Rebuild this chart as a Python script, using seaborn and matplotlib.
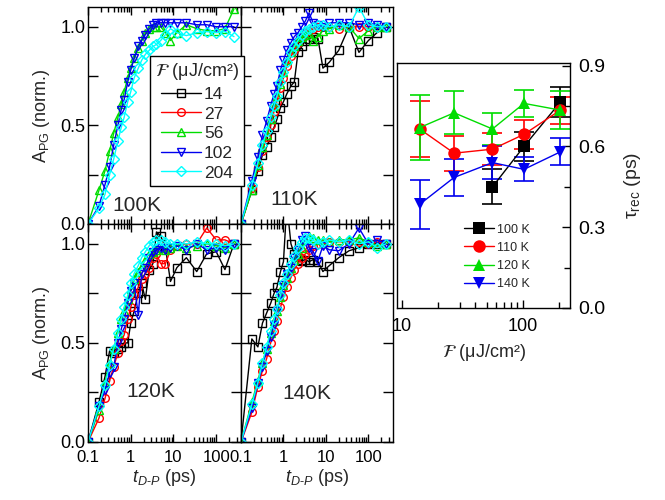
import numpy as np
import pandas as pd
import matplotlib
matplotlib.use("Agg")
import matplotlib.pyplot as plt
import seaborn as sns
from matplotlib.ticker import LogLocator, NullFormatter, FixedLocator

sns.set_theme(style="ticks")
plt.rcParams['font.family'] = ['Liberation Sans', 'DejaVu Sans']
plt.rcParams['mathtext.fontset'] = 'custom'
plt.rcParams['mathtext.rm'] = 'Liberation Sans'
plt.rcParams['mathtext.it'] = 'Liberation Sans:italic'
plt.rcParams['mathtext.sf'] = 'Liberation Sans'

# ---------------- data ----------------
fluences = ["14", "27", "56", "102", "204"]
series_colors = ["#000000", "#ff0000", "#00dd00", "#0000ee", "#00ffff"]
series_markers = ["s", "o", "^", "v", "D"]

t_delay = [0.1, 0.18, 0.25, 0.32, 0.4, 0.5, 0.6, 0.7, 0.85, 1.0, 1.2, 1.5, 1.8, 2.2,
           2.7, 3.3, 4.0, 5.0, 6.5, 8.5, 12, 20, 35, 60, 100, 160, 260]

k100_56 = [0, 0.17, 0.27, 0.37, 0.46, 0.54, 0.61, 0.67, 0.74, 0.79, 0.84, 0.89, 0.93, 0.97,
           0.99, 1.00, 1.00, 1.00, 0.97, 0.93, 0.97, 1.01, 0.99, 0.98, 0.98, 0.99, 1.09]
k100_102 = [0, 0.09, 0.20, 0.29, 0.40, 0.50, 0.58, 0.63, 0.72, 0.78, 0.84, 0.90, 0.93, 0.96,
            0.99, 1.01, 1.02, 1.02, 1.02, 1.02, 1.02, 1.02, 1.01, 1.01, 1.00, 1.00, 1.00]
k100_204 = [0, 0.08, 0.15, 0.25, 0.33, 0.42, 0.49, 0.54, 0.62, 0.67, 0.74, 0.79, 0.83, 0.86,
            0.88, 0.90, 0.91, 0.93, 0.96, 0.99, 0.97, 0.955, 0.97, 0.975, 0.97, 0.975, 0.95]

k110_14 = [0, 0.17, 0.27, 0.35, 0.39, 0.44, 0.49, 0.53, 0.59, 0.62, 0.66, 0.70, 0.72, 0.87,
           0.90, 0.93, 0.94, 0.95, 0.94, 0.79, 0.82, 0.88, 1.00, 0.87, 0.93, 0.97, 1.00]
k110_27 = [0, 0.18, 0.29, 0.37, 0.44, 0.50, 0.57, 0.62, 0.69, 0.74, 0.80, 0.85, 0.88, 0.92,
           0.95, 0.97, 0.98, 0.99, 1.00, 1.00, 1.00, 0.99, 1.00, 1.00, 1.00, 1.00, 1.00]
k110_56 = [0, 0.17, 0.30, 0.39, 0.45, 0.53, 0.60, 0.65, 0.71, 0.77, 0.83, 0.87, 0.90, 0.93,
           0.95, 0.96, 0.97, 0.93, 0.95, 0.98, 0.99, 1.01, 1.00, 0.94, 0.98, 1.00, 1.00]
k110_102 = [0, 0.22, 0.34, 0.45, 0.52, 0.60, 0.66, 0.70, 0.78, 0.83, 0.88, 0.92, 0.95, 0.97,
            1.00, 1.03, 1.07, 1.02, 1.01, 1.00, 1.02, 1.02, 1.02, 1.01, 1.02, 1.01, 1.00]
k110_204 = [0, 0.20, 0.31, 0.40, 0.47, 0.54, 0.60, 0.65, 0.72, 0.77, 0.82, 0.87, 0.90, 0.93,
            0.96, 0.98, 0.99, 1.00, 1.01, 1.01, 1.00, 1.01, 1.00, 1.10, 1.01, 1.00, 1.00]

k120_14 = [0, 0.20, 0.33, 0.46, 0.45, 0.47, 0.48, 0.50, 0.50, 0.60, 0.66, 0.75, 0.80, 0.72,
           0.87, 0.90, 1.06, 1.04, 0.98, 0.81, 0.88, 0.93, 0.86, 0.95, 0.96, 0.87, 1.00]
k120_27 = [0, 0.12, 0.22, 0.31, 0.38, 0.45, 0.51, 0.54, 0.62, 0.68, 0.74, 0.78, 0.82, 0.85,
           0.88, 0.93, 0.95, 0.90, 0.90, 0.97, 0.99, 1.00, 1.00, 1.08, 1.02, 1.02, 1.00]
k120_56 = [0, 0.16, 0.30, 0.40, 0.47, 0.55, 0.62, 0.66, 0.72, 0.77, 0.82, 0.86, 0.89, 0.92,
           0.95, 0.96, 0.97, 0.98, 0.97, 0.98, 0.99, 0.98, 0.99, 1.00, 0.99, 0.98, 1.00]
k120_102 = [0, 0.18, 0.26, 0.35, 0.38, 0.50, 0.57, 0.62, 0.70, 0.76, 0.80, 0.64, 0.85, 0.88,
            0.93, 0.96, 0.97, 0.98, 0.97, 0.98, 0.99, 0.97, 1.00, 0.97, 0.98, 0.97, 1.00]
k120_204 = [0, 0.18, 0.29, 0.39, 0.47, 0.55, 0.62, 0.68, 0.74, 0.80, 0.85, 0.89, 0.93, 0.96,
            0.99, 1.01, 1.02, 1.02, 1.01, 1.00, 1.00, 1.00, 1.01, 1.00, 1.00, 0.99, 1.00]

k140_14 = [0, 0.52, 0.48, 0.60, 0.65, 0.70, 0.75, 0.78, 0.86, 0.91, 1.20, 1.00, 0.95, 0.92,
           0.915, 0.92, 0.91, 0.92, 0.91, 0.86, 0.89, 0.93, 0.965, 0.98, 1.00, 1.00, 1.00]
k140_27 = [0, 0.15, 0.28, 0.36, 0.42, 0.50, 0.56, 0.61, 0.68, 0.73, 0.78, 0.83, 0.87, 0.90,
           0.93, 0.95, 0.97, 0.99, 1.00, 1.00, 1.01, 1.01, 1.01, 1.01, 1.00, 1.01, 1.00]
k140_56 = [0, 0.20, 0.31, 0.40, 0.47, 0.55, 0.61, 0.66, 0.73, 0.79, 0.83, 0.88, 0.92, 0.95,
           0.98, 1.02, 1.04, 1.03, 1.02, 1.02, 1.01, 1.02, 1.02, 1.03, 1.01, 0.99, 1.00]
k140_102 = [0, 0.17, 0.30, 0.38, 0.46, 0.53, 0.59, 0.66, 0.74, 0.79, 0.85, 0.88, 0.93, 0.97,
            1.02, 1.04, 0.98, 0.96, 0.915, 0.99, 0.97, 0.965, 1.00, 1.08, 1.00, 1.02, 1.00]
k140_204 = [0, 0.19, 0.30, 0.40, 0.48, 0.56, 0.62, 0.67, 0.74, 0.80, 0.85, 0.90, 0.94, 0.98,
            1.01, 1.03, 1.03, 1.02, 1.00, 1.01, 1.02, 1.01, 1.02, 1.00, 1.01, 0.98, 1.00]

panel_labels = ["100K", "110K", "120K", "140K"]
panel_series = [
    {"56": k100_56, "102": k100_102, "204": k100_204},
    {"14": k110_14, "27": k110_27, "56": k110_56, "102": k110_102, "204": k110_204},
    {"14": k120_14, "27": k120_27, "56": k120_56, "102": k120_102, "204": k120_204},
    {"14": k140_14, "27": k140_27, "56": k140_56, "102": k140_102, "204": k140_204},
]

# recovery time vs fluence
fluence_vals = [14, 27, 56, 102, 204]
temps = ["100 K", "110 K", "120 K", "140 K"]
tau_100 = [np.nan, np.nan, 0.45, 0.60, 0.765]
err_100 = [np.nan, np.nan, 0.065, 0.055, 0.055]
tau_110 = [0.665, 0.575, 0.59, 0.645, 0.735]
err_110 = [0.105, 0.065, 0.06, 0.055, 0.05]
tau_120 = [0.67, 0.725, 0.665, 0.76, 0.735]
err_120 = [0.12, 0.08, 0.06, 0.05, 0.07]
tau_140 = [0.385, 0.485, 0.54, 0.515, 0.58]
err_140 = [0.09, 0.07, 0.06, 0.045, 0.05]
tau_colors = ["#000000", "#ff0000", "#00dd00", "#0000ee"]
tau_markers = ["s", "o", "^", "v"]

FLUENCE_LABEL = r"$\mathcal{F}$ (μJ/cm²)"

# ---------------- figure ----------------
W, H = 665, 500
fig = plt.figure(figsize=(W / 100, H / 100), dpi=100)

def frac(x0, y0, x1, y1):
    return [x0 / W, 1 - y1 / H, (x1 - x0) / W, (y1 - y0) / H]

pos = [frac(88, 7, 241, 224), frac(241, 7, 393, 224),
       frac(88, 224, 241, 442), frac(241, 224, 393, 442)]
label_pos = [(0.16, 0.04), (0.19, 0.07), (0.25, 0.19), (0.27, 0.18)]

axes = []
for i in range(4):
    ax = fig.add_axes(pos[i])
    axes.append(ax)
    for name, vals in panel_series[i].items():
        j = fluences.index(name)
        df = pd.DataFrame({"t": t_delay, "a": vals})
        sns.lineplot(data=df, x="t", y="a", ax=ax, sort=False, estimator=None,
                     color=series_colors[j], marker=series_markers[j],
                     markerfacecolor="none", markeredgecolor=series_colors[j],
                     markersize=5.5 if series_markers[j] != "D" else 4.8,
                     markeredgewidth=1.0, linewidth=1.0, label=name, legend=False)
    ax.set_xscale("log")
    ax.set_xlim(0.1, 380)
    ax.set_ylim(0, 1.1)
    ax.set_xticks([0.1, 1, 10, 100])
    ax.xaxis.set_minor_locator(LogLocator(base=10, subs=np.arange(2, 10)))
    ax.xaxis.set_minor_formatter(NullFormatter())
    ax.set_yticks([0, 0.25, 0.5, 0.75, 1.0])
    ax.tick_params(which="both", direction="in", top=True, right=True, width=1.0, colors="black")
    ax.tick_params(axis="x", which="major", length=6)
    ax.tick_params(axis="x", which="minor", length=3.5)
    ax.tick_params(axis="y", which="major", length=7)
    ax.tick_params(axis="y", labelsize=13, pad=2)
    ax.tick_params(axis="x", labelsize=12, pad=6)
    for s in ax.spines.values():
        s.set_linewidth(1.0)
        s.set_color("black")
    ax.set_xlabel("")
    ax.set_ylabel("")
    if i in (0, 2):
        ax.set_yticklabels(["0.0", "", "0.5", "", "1.0"])
        ax.set_ylabel("A$_{\\mathrm{PG}}$ (norm.)", fontsize=13, labelpad=6)
    else:
        ax.set_yticklabels([])
    if i in (0, 1):
        ax.set_xticklabels([])
    else:
        ax.set_xticklabels(["0.1", "1", "10", "100"])
        ax.set_xlabel("$t_{D\\text{-}P}$ (ps)", fontsize=13, labelpad=1)
    ax.text(label_pos[i][0], label_pos[i][1], panel_labels[i], transform=ax.transAxes,
            fontsize=15, ha="left", va="bottom")

# legend for fluence (figure-level, across the top panels)
h, l = axes[1].get_legend_handles_labels()
leg = fig.legend(h, l, loc="upper left", bbox_to_anchor=(150 / W, 1 - 56 / H),
                 title=FLUENCE_LABEL, title_fontsize=13,
                 fontsize=12.5, frameon=True, fancybox=False, edgecolor="black",
                 framealpha=1, handlelength=2.3, handletextpad=0.15, labelspacing=0.26,
                 borderpad=0.3, borderaxespad=0)
leg.get_frame().set_linewidth(1.0)
leg.get_title().set_math_fontfamily("stix")

# right panel: recovery time
axr = fig.add_axes(frac(397, 63, 570, 308))
tau_all = [tau_100, tau_110, tau_120, tau_140]
err_all = [err_100, err_110, err_120, err_140]
for k in range(4):
    df = pd.DataFrame({"F": fluence_vals, "tau": tau_all[k], "err": err_all[k]}).dropna()
    axr.errorbar(df["F"], df["tau"], yerr=df["err"], fmt="none", ecolor=tau_colors[k],
                 elinewidth=1.2, capsize=7, capthick=1.2, zorder=2)
    sns.lineplot(data=df, x="F", y="tau", ax=axr, sort=False, estimator=None,
                 color=tau_colors[k], marker=tau_markers[k], markersize=9,
                 markeredgewidth=0, linewidth=1.0, label=temps[k], zorder=3)
axr.set_xscale("log")
axr.set_xlim(9.1, 245)
axr.set_ylim(0, 0.91)
axr.set_xticks([10, 100])
axr.set_xticklabels(["10", "100"])
axr.xaxis.set_minor_locator(LogLocator(base=10, subs=np.arange(2, 10)))
axr.xaxis.set_minor_formatter(NullFormatter())
axr.yaxis.tick_right()
axr.yaxis.set_label_position("right")
axr.yaxis.set_major_locator(FixedLocator([0, 0.3, 0.6, 0.9]))
axr.yaxis.set_minor_locator(FixedLocator([0.15, 0.45, 0.75]))
axr.set_yticklabels(["0.0", "0.3", "0.6", "0.9"])
axr.tick_params(which="both", direction="in", top=False, left=False, right=True,
                bottom=True, width=1.0, colors="black")
axr.tick_params(which="major", length=6)
axr.tick_params(which="minor", length=4)
axr.tick_params(axis="y", labelsize=14, pad=6)
axr.tick_params(axis="x", labelsize=13, pad=7)
for s in axr.spines.values():
    s.set_linewidth(1.0)
    s.set_color("black")
xl = axr.set_xlabel(FLUENCE_LABEL, fontsize=13, labelpad=5)
xl.set_math_fontfamily("stix")
axr.set_ylabel("\u03c4$_{\\mathrm{rec}}$ (ps)", fontsize=14, labelpad=12)
lg = axr.legend(loc="upper left", bbox_to_anchor=(0.36, 0.365), frameon=False, fontsize=9,
                handlelength=2.4, handletextpad=0.2, labelspacing=0.5, borderaxespad=0)

fig.savefig("out.png", dpi=100)
